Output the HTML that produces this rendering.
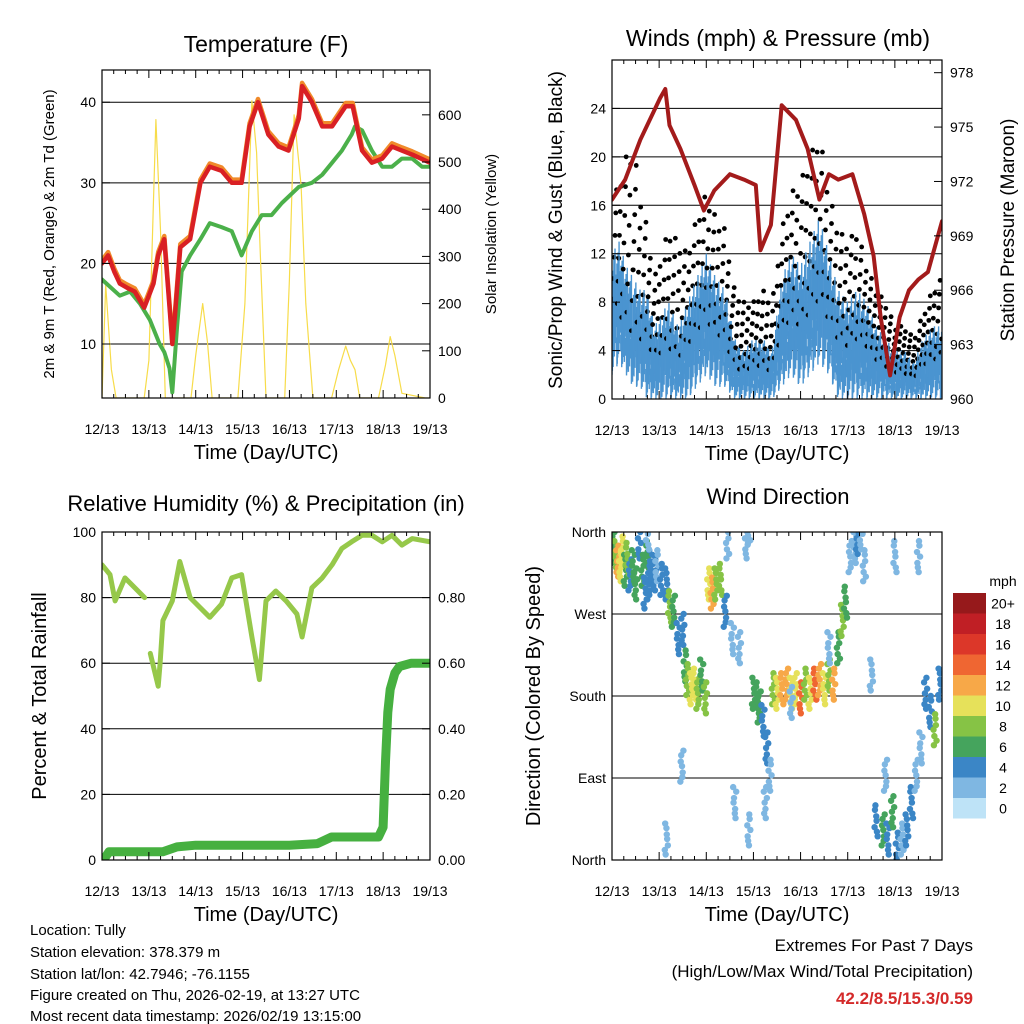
<!DOCTYPE html>
<html><head><meta charset="utf-8"><style>
html,body{margin:0;padding:0;background:#fff;}
svg{display:block;font-family:"Liberation Sans",sans-serif;}
</style></head><body>
<svg id="c" width="1024" height="1024" viewBox="0 0 1024 1024" xmlns="http://www.w3.org/2000/svg">
<rect width="1024" height="1024" fill="#fff"/>
<g id="g"></g>
<text x="30" y="935" font-size="15">Location: Tully</text>
<text x="30" y="957" font-size="15">Station elevation: 378.379 m</text>
<text x="30" y="979" font-size="15">Station lat/lon: 42.7946; -76.1155</text>
<text x="30" y="1000" font-size="15">Figure created on Thu, 2026-02-19, at 13:27 UTC</text>
<text x="30" y="1021" font-size="15">Most recent data timestamp: 2026/02/19 13:15:00</text>
<text x="973" y="951" font-size="17" text-anchor="end">Extremes For Past 7 Days</text>
<text x="973" y="977" font-size="17" text-anchor="end">(High/Low/Max Wind/Total Precipitation)</text>
<text x="973" y="1004" font-size="17" font-weight="bold" fill="#d42a2a" text-anchor="end">42.2/8.5/15.3/0.59</text>
</svg>
<script>
const dayLabels=["12/13","13/13","14/13","15/13","16/13","17/13","18/13","19/13"];
// Temperature panel
const tDay=[0,0.13,0.26,0.38,0.53,0.7,0.9,1.0,1.1,1.2,1.33,1.45,1.5,1.55,1.67,1.88,2.1,2.3,2.55,2.77,2.98,3.15,3.33,3.55,3.77,3.98,4.2,4.27,4.48,4.7,4.91,5.2,5.35,5.55,5.76,5.98,6.19,6.4,6.62,7.0];
const tVal=[20,21,19,17.5,17,16.5,14.5,16,17.5,21,23,14,10,13,22,23,30,32,31.5,30,30,37,40,36,34.5,34,38,42,40,37,37,39.5,39.5,34,32.5,33,34.5,34,33.5,32.5];
const tdDay=[0,0.38,0.6,0.81,1.02,1.23,1.33,1.44,1.5,1.6,1.7,1.88,2.1,2.3,2.55,2.77,2.98,3.2,3.41,3.62,3.84,4.2,4.48,4.7,4.91,5.12,5.33,5.4,5.55,5.76,5.98,6.19,6.4,6.62,6.83,7.0];
const tdVal=[18,16,16.5,15,13,10,9,7,4,12,19,21,23,25,24.5,24,21,24,26,26,27.5,29.5,30,31,32.5,34,36,37,36.5,34,32,32,33,33,32,32];
const solDay=[0,0.08,0.12,0.2,0.3,0.9,1.0,1.1,1.15,1.25,1.35,1.9,2.0,2.15,2.25,2.35,2.9,3.05,3.2,3.3,3.38,3.5,3.9,4.0,4.1,4.25,4.35,4.5,4.9,5.05,5.2,5.3,5.4,5.5,5.9,6.05,6.15,6.25,6.4,6.9,7.0];
const solVal=[0,240,180,60,0,0,80,420,590,350,0,0,90,200,120,0,0,200,630,520,300,0,0,250,600,450,200,0,0,60,110,80,60,0,0,70,130,90,10,0,0];
// Winds panel
const wDay=[0,0.15,0.3,0.45,0.6,0.75,0.9,1.05,1.2,1.4,1.6,1.8,2.0,2.2,2.4,2.6,2.8,3.0,3.2,3.4,3.6,3.8,4.0,4.2,4.4,4.6,4.8,5.0,5.2,5.4,5.6,5.8,6.0,6.2,6.4,6.6,6.8,7.0];
const wMax=[12,13,11,10,9,9,6,7,8,6,8,10,12,10,9,5,4,5,5,4,10,12,11,13,15,12,9,8,9,8,6,5,4,4,3,5,6,6];
const wMin=[2,3,2,1,1,0,0,0,0,0,0,1,2,1,1,0,0,0,0,0,1,2,1,2,3,2,0,0,0,0,0,0,0,0,0,0,0,0];
const gMax=[16,18,20,21,17,14,10,12,14,13,12,15,17,15,14,9,8,8,9,8,14,17,18,20,22,17,14,13,14,11,9,8,6,6,5,7,9,10];
const pDay=[0,0.28,0.6,1.02,1.13,1.22,1.45,1.75,1.95,2.17,2.5,2.8,3.05,3.15,3.37,3.6,3.9,4.15,4.4,4.6,4.8,5.1,5.35,5.55,5.7,5.9,6.1,6.3,6.5,6.7,7.0];
const pVal=[971,972.1,974.3,976.6,977.1,975.1,973.8,971.8,970.4,971.5,972.4,972.1,971.8,968.2,969.6,976.2,975.4,973.8,971.0,972.4,972.1,972.4,970.2,967.9,964.5,961.3,964.5,966.0,966.6,967,969.8];
// RH panel
const rhDay=[0,0.17,0.28,0.49,0.7,0.91,1.0,1.03,1.2,1.24,1.3,1.5,1.66,1.88,2.3,2.55,2.77,2.98,3.2,3.36,3.5,3.71,3.93,4.16,4.27,4.48,4.7,4.91,5.12,5.33,5.55,5.76,5.98,6.19,6.4,6.62,7.0];
const rhVal=[90,87,79,86,83,80,null,63,53,60,73,79,91,80,74,78,86,87,68,55,79,82,79,75,68,83,86,90,95,97,99,99,97,99,96,98,97];
const prDay=[0,0.08,0.15,1.3,1.6,2.0,3.0,4.0,4.6,4.9,5.5,5.9,6.0,6.05,6.1,6.15,6.25,6.35,6.6,7.0];
const prVal=[0,0.01,0.025,0.025,0.04,0.045,0.045,0.045,0.05,0.07,0.07,0.07,0.1,0.3,0.45,0.52,0.57,0.59,0.6,0.6];
// Wind direction panel
const dDay=[0.02,0.08,0.12,0.18,0.22,0.28,0.32,0.38,0.45,0.5,0.58,0.65,0.7,0.75,0.78,0.82,0.9,0.95,1.05,1.15,1.22,1.3,1.4,1.5,1.55,1.6,1.68,1.75,1.82,1.9,1.98,2.05,2.12,2.2,2.3,2.4,2.55,2.7,2.85,2.9,3.0,3.08,3.12,3.2,3.28,3.35,3.42,3.5,3.6,3.7,3.8,3.9,4.0,4.1,4.2,4.3,4.4,4.5,4.6,4.7,4.8,4.88,4.95,5.05,5.15,5.2,5.28,5.35,5.5,5.6,5.75,5.85,5.95,6.05,6.15,6.25,6.35,6.45,6.55,6.65,6.75,6.85,6.95,6.0,5.8,4.6,3.8,2.9,2.45,1.15,0.75,1.48,2.6,3.25,6.5];
const dDeg=[340,330,325,320,335,315,328,310,320,300,345,315,290,330,300,320,310,320,305,300,275,270,240,250,210,195,185,190,180,200,175,300,290,300,305,270,240,230,345,360,180,175,165,150,120,90,185,180,185,190,180,185,175,190,180,190,195,185,200,190,230,260,280,330,340,350,355,320,200,40,30,20,50,10,20,30,60,90,120,180,160,140,190,330,90,230,170,30,345,20,355,100,60,60,330];
const dSpd=[6,8,12,10,9,6,8,4,6,5,4,6,3,5,4,3,4,2,4,3,7,5,4,3,6,8,10,9,7,6,8,9,11,8,7,4,2,2,2,1,5,6,6,4,3,2,8,10,12,11,9,10,13,8,10,13,12,9,8,11,6,7,6,1,2,3,2,1,1,4,5,3,6,4,2,4,3,2,2,4,3,8,4,1,2,2,2,1,1,1,1,2,1,1,1];
const cbLabels=["0","2","4","6","8","10","12","14","16","18","20+"];
const cbColors=["#bee3f7","#7fb7e2","#3b86c6","#45a45d","#86c345","#e6e15a","#f7a848","#ef6632","#dc3729","#c01f25","#96191b"];

const NS="http://www.w3.org/2000/svg";const G=document.getElementById('g');
function el(tag,attrs,parent){const e=document.createElementNS(NS,tag);for(const k in attrs)e.setAttribute(k,attrs[k]);(parent||G).appendChild(e);return e;}
function txt(x,y,s,size,anchor,rot){const t=el('text',{x:x,y:y,'font-size':size,'text-anchor':anchor||'middle'});if(rot)t.setAttribute('transform','rotate('+rot+' '+x+' '+y+')');t.textContent=s;return t;}
function panel(p){
 const xs=d=>p.x0+(p.x1-p.x0)*d/7;
 const ys=v=>p.y1-(p.y1-p.y0)*(v-p.lmin)/(p.lmax-p.lmin);
 const yr=v=>p.y1-(p.y1-p.y0)*(v-p.rmin)/(p.rmax-p.rmin);
 p.xs=xs;p.ys=ys;p.yr=yr;
 const grid=el('g',{});
 p.lt.forEach(v=>{if(p.grid)el('line',{x1:p.x0,x2:p.x1,y1:ys(v),y2:ys(v),stroke:'#000','stroke-width':1},grid);});
 return p;}
function frame(p){
 const f=el('g',{});
 el('rect',{x:p.x0,y:p.y0,width:p.x1-p.x0,height:p.y1-p.y0,fill:'none',stroke:'#000','stroke-width':1.2},f);
 for(let d=0;d<=7;d++){const x=p.xs(d);el('line',{x1:x,x2:x,y1:p.y1,y2:p.y1-8,stroke:'#000'},f);el('line',{x1:x,x2:x,y1:p.y0,y2:p.y0+8,stroke:'#000'},f);
  const t=txt(x,p.y1+36,dayLabels[d],14);f.appendChild(t);
  if(d<7)for(let k=1;k<4;k++){const xm=p.xs(d+k/4);el('line',{x1:xm,x2:xm,y1:p.y1,y2:p.y1-4,stroke:'#000'},f);el('line',{x1:xm,x2:xm,y1:p.y0,y2:p.y0+4,stroke:'#000'},f);}}
 p.lt.forEach((v,i)=>{const y=p.ys(v);el('line',{x1:p.x0,x2:p.x0+8,y1:y,y2:y,stroke:'#000'},f);f.appendChild(txt(p.x0-6,y+5,p.ll[i],14,'end'));});
 p.rt.forEach((v,i)=>{const y=p.yr(v);el('line',{x1:p.x1,x2:p.x1-8,y1:y,y2:y,stroke:'#000'},f);f.appendChild(txt(p.x1+8,y+5,p.rl[i],14,'start'));});
 const t1=txt((p.x0+p.x1)/2,p.y1+61,'Time (Day/UTC)',20);
}
function line(p,xa,ya,sc,stroke,w,name){let d='',pen=false;xa.forEach((x,i)=>{if(ya[i]===null){pen=false;return;}d+=(pen?'L':'M')+p.xs(x).toFixed(1)+' '+sc(ya[i]).toFixed(1);pen=true;});
 const e=el('path',{d:d,fill:'none',stroke:stroke,'stroke-width':w,'stroke-linejoin':'round','stroke-linecap':'round'});return e;}
function clip(id,p){const c=el('clipPath',{id:id});el('rect',{x:p.x0,y:p.y0,width:p.x1-p.x0,height:p.y1-p.y0},c);}

// Panel 1
const P1=panel({name:'temperature',x0:102,x1:430,y0:70,y1:398,lmin:3.3,lmax:44,rmin:0,rmax:695,lt:[10,20,30,40],ll:['10','20','30','40'],rt:[0,100,200,300,400,500,600],rl:['0','100','200','300','400','500','600'],grid:true});
clip('c1',P1);
const g1=el('g',{'clip-path':'url(#c1)'});
g1.appendChild(line(P1,solDay,solVal,P1.yr,'#f7dc4a',1.2,'solar-insolation-line'));
g1.appendChild(line(P1,tdDay,tdVal,P1.ys,'#4bb04a',4,'dewpoint-line'));
g1.appendChild(line(P1,tDay,tVal.map(v=>v+0.4),P1.ys,'#f08a2a',4.5,'temp-9m-line'));
g1.appendChild(line(P1,tDay,tVal,P1.ys,'#d92024',4.5,'temp-2m-line'));
frame(P1);
txt(266,52,'Temperature (F)',23);
txt(54,234,'2m & 9m T (Red, Orange) & 2m Td (Green)',15,'middle',-90);
txt(496,234,'Solar Insolation (Yellow)',15,'middle',-90);

// Panel 2
const P2=panel({name:'winds',x0:612,x1:942,y0:60,y1:399,lmin:0,lmax:28,rmin:960,rmax:978.7,lt:[0,4,8,12,16,20,24],ll:['0','4','8','12','16','20','24'],rt:[960,963,966,969,972,975,978],rl:['960','963','966','969','972','975','978'],grid:true});
clip('c2',P2);
const g2=el('g',{'clip-path':'url(#c2)'});
const step=0.008;
for(let i=0;i<wDay.length-1;i++){for(let t=wDay[i];t<wDay[i+1];t+=step){const f=(t-wDay[i])/(wDay[i+1]-wDay[i]);const k=Math.round(t/step);const ph=((k*37)%11)/10;const ph2=((k*53)%13)/12;
 const mx=wMax[i]+(wMax[i+1]-wMax[i])*f,mn=wMin[i]+(wMin[i+1]-wMin[i])*f,gx=gMax[i]+(gMax[i+1]-gMax[i])*f;
 const top=mn+(mx-mn)*(0.25+0.75*ph);const bot=mn+(top-mn)*ph2*0.6;const gy=mx*0.55+(gx-mx*0.55)*ph2;
 const b=el('line',{x1:P2.xs(t),x2:P2.xs(t),y1:P2.ys(bot),y2:P2.ys(top),stroke:'#4b94d0','stroke-width':1.4},g2);
 if(k%2===0){const c=el('circle',{cx:P2.xs(t),cy:P2.ys(gy),r:2.4,fill:'#000'},g2);}}}
g2.appendChild(line(P2,pDay,pVal,P2.yr,'#a31b1b',4,'pressure-line'));
frame(P2);
txt(778,46,'Winds (mph) & Pressure (mb)',23);
txt(562,230,'Sonic/Prop Wind & Gust (Blue, Black)',19,'middle',-90);
txt(1014,230,'Station Pressure (Maroon)',19,'middle',-90);

// Panel 3
const P3=panel({name:'humidity',x0:102,x1:430,y0:532,y1:860,lmin:0,lmax:100,rmin:0,rmax:1,lt:[0,20,40,60,80,100],ll:['0','20','40','60','80','100'],rt:[0,0.2,0.4,0.6,0.8],rl:['0.00','0.20','0.40','0.60','0.80'],grid:true});
clip('c3',P3);
const g3=el('g',{'clip-path':'url(#c3)'});
g3.appendChild(line(P3,rhDay,rhVal,P3.ys,'#96c84a',5,'humidity-line'));
g3.appendChild(line(P3,prDay,prVal,P3.yr,'#46b040',9,'precipitation-line'));
frame(P3);
txt(266,511,'Relative Humidity (%) & Precipitation (in)',22);
txt(46,696,'Percent & Total Rainfall',20,'middle',-90);

// Panel 4
const P4=panel({name:'wind-direction',x0:612,x1:942,y0:532,y1:860,lmin:0,lmax:360,rmin:0,rmax:1,lt:[0,90,180,270,360],ll:['North','East','South','West','North'],rt:[],rl:[],grid:true});
clip('c4',P4);
const g4=el('g',{'clip-path':'url(#c4)'});
const jx=[-0.03,-0.012,0.005,0.02,0.035,-0.022,0.012],jy=[-14,8,-4,15,-9,20,3];
dDay.forEach((d,i)=>{const ci=Math.min(10,Math.max(0,Math.round(dSpd[i]/2)));
 for(let j=0;j<7;j++){const c=el('circle',{cx:P4.xs(d+jx[(j+i)%7]),cy:P4.ys(dDeg[i]+jy[(j*3+i)%7]),r:3.2,fill:cbColors[ci]},g4);
 
 }});
frame(P4);
txt(778,504,'Wind Direction',22);
txt(540,696,'Direction (Colored By Speed)',20,'middle',-90);
// colorbar
const cb=el('g',{});
const cbTop=593,cbH=20.5;
cbColors.forEach((c,i)=>{const y=cbTop+(10-i)*cbH;el('rect',{x:953,y:y,width:33,height:cbH,fill:c},cb);cb.appendChild(txt(1003,y+cbH/2+5,cbLabels[i],14,'middle'));});
cb.appendChild(txt(1003,586,'mph',14,'middle'));
</script>
</body></html>
